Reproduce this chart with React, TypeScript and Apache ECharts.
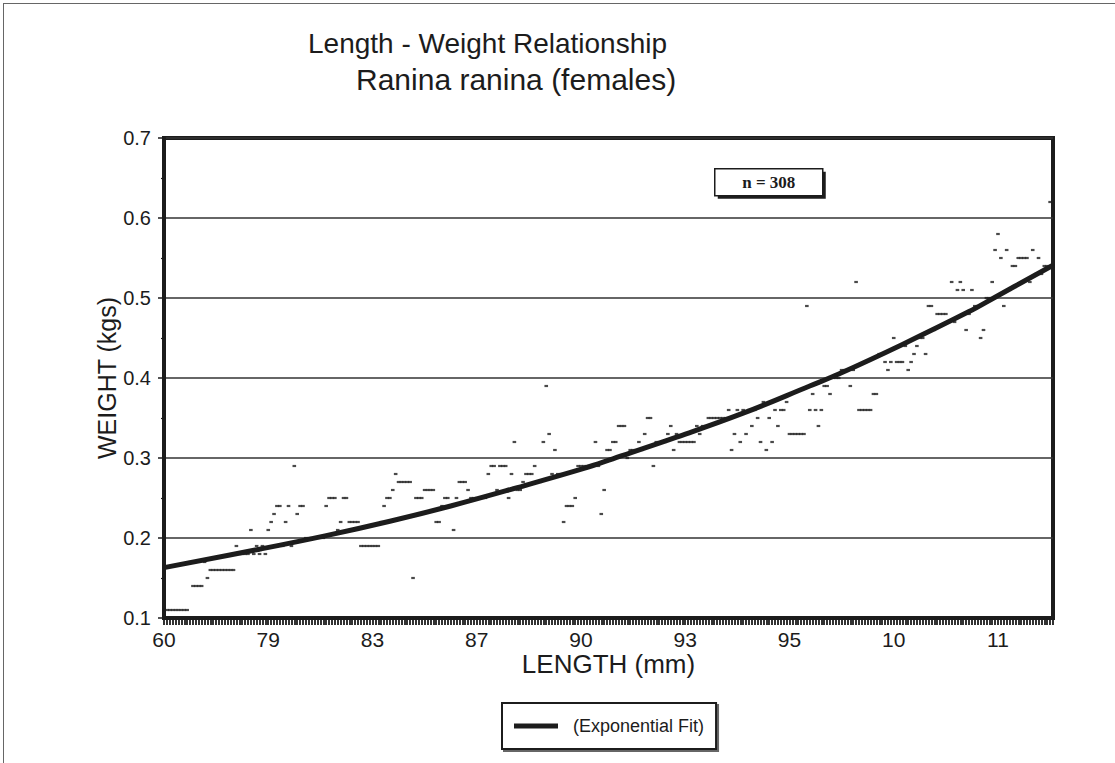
import { useEffect, useRef } from "react";
import * as echarts from "echarts";

// Specimens sorted by carapace length; one weight (kg) per specimen.
const sampleSize = 308;
const weights = [
  0.11, 0.11, 0.11, 0.11, 0.11, 0.11, 0.11, 0.11, 0.11, 0.17,
  0.14, 0.14, 0.14, 0.14, 0.17, 0.15, 0.16, 0.16, 0.16, 0.16,
  0.16, 0.16, 0.16, 0.16, 0.16, 0.19, 0.18, 0.18, 0.18, 0.18,
  0.21, 0.18, 0.19, 0.18, 0.19, 0.18, 0.21, 0.22, 0.23, 0.24,
  0.24, 0.19, 0.22, 0.24, 0.19, 0.29, 0.23, 0.24, 0.24, 0.2,
  0.2, 0.2, 0.2, 0.2, 0.2, 0.2, 0.24, 0.25, 0.25, 0.25,
  0.21, 0.22, 0.25, 0.25, 0.22, 0.22, 0.22, 0.22, 0.19, 0.19,
  0.19, 0.19, 0.19, 0.19, 0.19, 0.22, 0.24, 0.25, 0.25, 0.26,
  0.28, 0.27, 0.27, 0.27, 0.27, 0.27, 0.15, 0.25, 0.25, 0.25,
  0.26, 0.26, 0.26, 0.26, 0.22, 0.22, 0.24, 0.25, 0.25, 0.24,
  0.21, 0.25, 0.27, 0.27, 0.27, 0.26, 0.25, 0.25, 0.25, 0.25,
  0.25, 0.25, 0.28, 0.29, 0.29, 0.26, 0.29, 0.29, 0.29, 0.25,
  0.28, 0.32, 0.26, 0.26, 0.27, 0.28, 0.28, 0.28, 0.29, 0.27,
  0.27, 0.32, 0.39, 0.33, 0.28, 0.31, 0.28, 0.28, 0.22, 0.24,
  0.24, 0.24, 0.25, 0.29, 0.29, 0.29, 0.29, 0.29, 0.29, 0.32,
  0.29, 0.23, 0.26, 0.31, 0.31, 0.32, 0.32, 0.34, 0.34, 0.34,
  0.3, 0.31, 0.31, 0.31, 0.32, 0.31, 0.33, 0.35, 0.35, 0.29,
  0.32, 0.32, 0.32, 0.32, 0.33, 0.34, 0.31, 0.33, 0.32, 0.32,
  0.32, 0.32, 0.32, 0.32, 0.34, 0.33, 0.34, 0.34, 0.35, 0.35,
  0.35, 0.35, 0.35, 0.35, 0.35, 0.36, 0.31, 0.33, 0.36, 0.32,
  0.36, 0.33, 0.36, 0.34, 0.36, 0.35, 0.32, 0.37, 0.31, 0.35,
  0.32, 0.36, 0.34, 0.36, 0.36, 0.37, 0.33, 0.33, 0.33, 0.33,
  0.33, 0.33, 0.49, 0.36, 0.38, 0.36, 0.34, 0.36, 0.39, 0.39,
  0.38, 0.4, 0.4, 0.4, 0.41, 0.41, 0.41, 0.39, 0.41, 0.52,
  0.36, 0.36, 0.36, 0.36, 0.36, 0.38, 0.38, 0.43, 0.43, 0.42,
  0.41, 0.42, 0.45, 0.42, 0.42, 0.42, 0.44, 0.41, 0.42, 0.43,
  0.44, 0.45, 0.45, 0.43, 0.49, 0.49, 0.46, 0.48, 0.48, 0.48,
  0.48, 0.47, 0.52, 0.47, 0.51, 0.52, 0.51, 0.46, 0.48, 0.51,
  0.49, 0.49, 0.45, 0.46, 0.5, 0.5, 0.52, 0.56, 0.58, 0.55,
  0.49, 0.56, 0.51, 0.54, 0.54, 0.55, 0.55, 0.55, 0.55, 0.52,
  0.56, 0.53, 0.55, 0.53, 0.54, 0.54, 0.62, 0.54,
];

// Exponential fit, sampled at specimen positions along the axis.
const fitIndex = [0, 33, 56, 78, 99, 122, 145, 155, 177, 200, 223, 233, 255, 278, 287, 307];
const fitWeight = [0.163, 0.186, 0.203, 0.221, 0.24, 0.263, 0.287, 0.299, 0.326, 0.356, 0.39, 0.405, 0.442, 0.483, 0.501, 0.541];

// Length labels printed every 36th specimen.
const lengthLabels = ["60", "79", "83", "87", "90", "93", "95", "10", "11"];
const labelStep = 36;

const yMin = 0.1;
const yMax = 0.7;
const yStep = 0.1;

const fitName = "(Exponential Fit)";
const sans = "'Liberation Sans', Arial, sans-serif";
const ink = "#1c1c1c";

export default function App() {
  const ref = useRef<HTMLDivElement>(null);

  useEffect(() => {
    if (!ref.current) return;
    const chart = echarts.init(ref.current, null, { renderer: "svg" });

    const specimens = weights.map((_, i) => String(i + 1));
    const fitData = fitIndex.map((x, i) => [x, fitWeight[i]]);

    chart.setOption({
      animation: false,
      backgroundColor: "#ffffff",
      grid: {
        left: 164,
        right: 62,
        top: 138,
        bottom: 145,
        show: true,
        borderColor: ink,
        borderWidth: 4,
        backgroundColor: "transparent",
      },
      legend: {
        data: [fitName],
        left: 502,
        top: 703,
        icon: "rect",
        itemWidth: 44,
        itemHeight: 5,
        padding: [14, 12, 14, 12],
        borderColor: ink,
        borderWidth: 2,
        backgroundColor: "#ffffff",
        shadowColor: "rgba(0,0,0,0.6)",
        shadowOffsetX: 2,
        shadowOffsetY: 2,
        textStyle: { fontFamily: sans, fontSize: 18, color: ink, padding: [0, 0, 0, 10] },
      },
      xAxis: {
        type: "category",
        data: specimens,
        boundaryGap: false,
        name: "LENGTH (mm)",
        nameLocation: "middle",
        nameGap: 33,
        nameMoveOverlap: false,
        nameTextStyle: { fontFamily: sans, fontSize: 26, color: ink },
        axisLine: { lineStyle: { color: ink, width: 2 } },
        axisTick: { interval: 0, length: 7, lineStyle: { color: ink, width: 1.8 } },
        axisLabel: {
          interval: labelStep - 1,
          margin: 11,
          fontFamily: sans,
          fontSize: 21,
          color: ink,
          formatter: (_v: string, i: number) => lengthLabels[i / labelStep] ?? "",
        },
        splitLine: { show: false },
      },
      yAxis: {
        type: "value",
        min: yMin,
        max: yMax,
        interval: yStep,
        name: "WEIGHT (kgs)",
        nameLocation: "middle",
        nameGap: 45,
        nameMoveOverlap: false,
        nameTextStyle: { fontFamily: sans, fontSize: 25, color: ink },
        axisLine: { show: true, lineStyle: { color: ink, width: 4 } },
        axisTick: { show: true, length: 6, lineStyle: { color: ink, width: 1.5 } },
        minorTick: { show: true, splitNumber: 2, length: 3, lineStyle: { color: ink, width: 1.2 } },
        axisLabel: {
          margin: 13,
          fontFamily: sans,
          fontSize: 20,
          color: ink,
          formatter: (v: number) => v.toFixed(1),
        },
        splitLine: { lineStyle: { color: "#333333", width: 1.5 } },
      },
      series: [
        {
          name: "Weight",
          type: "scatter",
          data: weights,
          symbol: "rect",
          symbolSize: [3.6, 2.2],
          itemStyle: { color: ink },
          z: 2,
        },
        {
          name: fitName,
          type: "line",
          data: fitData,
          smooth: 0.4,
          showSymbol: false,
          symbol: "none",
          lineStyle: { color: ink, width: 5 },
          itemStyle: { color: ink },
          z: 3,
        },
      ],
      graphic: [
        { type: "line", shape: { x1: 3, y1: 3.5, x2: 1115, y2: 3.5 }, style: { stroke: "#666", lineWidth: 1 } },
        { type: "line", shape: { x1: 3.5, y1: 3, x2: 3.5, y2: 763 }, style: { stroke: "#666", lineWidth: 1 } },
        {
          type: "text",
          left: 308,
          top: 29,
          style: { text: "Length - Weight Relationship", fontFamily: sans, fontSize: 28, fill: ink },
        },
        {
          type: "text",
          left: 356,
          top: 64,
          style: { text: "Ranina ranina (females)", fontFamily: sans, fontSize: 30, fill: ink },
        },
        {
          type: "group",
          left: 714,
          top: 168,
          children: [
            { type: "rect", shape: { x: 3, y: 3, width: 108, height: 27 }, style: { fill: ink } },
            { type: "rect", shape: { x: 0, y: 0, width: 108, height: 27 }, style: { fill: "#ffffff", stroke: ink, lineWidth: 1.5 } },
            {
              type: "text",
              x: 54,
              y: 14,
              style: {
                text: "n = " + sampleSize,
                fontFamily: "'Liberation Serif', 'Times New Roman', serif",
                fontWeight: "bold",
                fontSize: 17,
                fill: ink,
                align: "center",
                verticalAlign: "middle",
              },
            },
          ],
        },
      ],
    });

    return () => chart.dispose();
  }, []);

  return (
    <div
      ref={ref}
      style={{ position: "absolute", left: 0, top: 0, width: 1115, height: 763, background: "#ffffff" }}
    />
  );
}
